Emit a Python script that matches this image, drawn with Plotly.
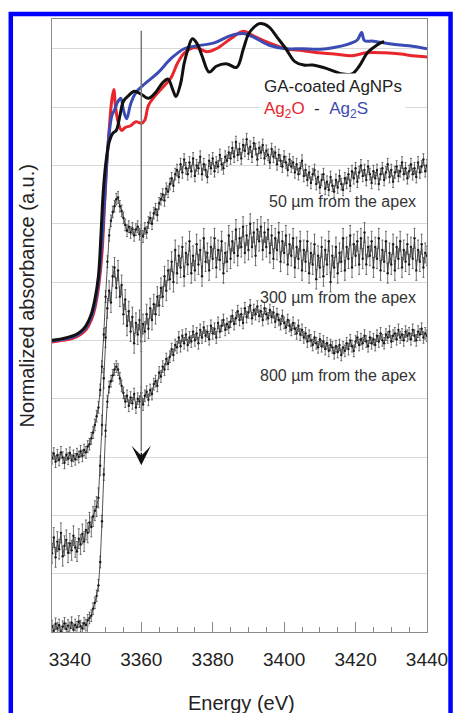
import plotly.graph_objects as go

# ---------------- data (grid units; 1 unit = one horizontal gridline) ----------------
energy_noisy = [
    3335, 3335.5, 3336, 3336.5, 3337, 3337.5, 3338, 3338.5, 3339, 3339.5, 3340, 3340.5, 3341, 3341.5, 3342, 3342.5, 3343, 3343.5, 3344, 3344.5,
    3345, 3345.5, 3346, 3346.5, 3347, 3347.5, 3348, 3348.5, 3349, 3349.5, 3350, 3350.5, 3351, 3351.5, 3352, 3352.5, 3353, 3353.5, 3354, 3354.5,
    3355, 3355.5, 3356, 3356.5, 3357, 3357.5, 3358, 3358.5, 3359, 3359.5, 3360, 3360.5, 3361, 3361.5, 3362, 3362.5, 3363, 3363.5, 3364, 3364.5,
    3365, 3365.5, 3366, 3366.5, 3367, 3367.5, 3368, 3368.5, 3369, 3369.5, 3370, 3370.5, 3371, 3371.5, 3372, 3372.5, 3373, 3373.5, 3374, 3374.5,
    3375, 3375.5, 3376, 3376.5, 3377, 3377.5, 3378, 3378.5, 3379, 3379.5, 3380, 3380.5, 3381, 3381.5, 3382, 3382.5, 3383, 3383.5, 3384, 3384.5,
    3385, 3385.5, 3386, 3386.5, 3387, 3387.5, 3388, 3388.5, 3389, 3389.5, 3390, 3390.5, 3391, 3391.5, 3392, 3392.5, 3393, 3393.5, 3394, 3394.5,
    3395, 3395.5, 3396, 3396.5, 3397, 3397.5, 3398, 3398.5, 3399, 3399.5, 3400, 3400.5, 3401, 3401.5, 3402, 3402.5, 3403, 3403.5, 3404, 3404.5,
    3405, 3405.5, 3406, 3406.5, 3407, 3407.5, 3408, 3408.5, 3409, 3409.5, 3410, 3410.5, 3411, 3411.5, 3412, 3412.5, 3413, 3413.5, 3414, 3414.5,
    3415, 3415.5, 3416, 3416.5, 3417, 3417.5, 3418, 3418.5, 3419, 3419.5, 3420, 3420.5, 3421, 3421.5, 3422, 3422.5, 3423, 3423.5, 3424, 3424.5,
    3425, 3425.5, 3426, 3426.5, 3427, 3427.5, 3428, 3428.5, 3429, 3429.5, 3430, 3430.5, 3431, 3431.5, 3432, 3432.5, 3433, 3433.5, 3434, 3434.5,
    3435, 3435.5, 3436, 3436.5, 3437, 3437.5, 3438, 3438.5, 3439, 3439.5, 3440]

apex_50 = [
    2.98, 3.06, 2.92, 3.03, 2.95, 3.08, 2.99, 2.90, 3.04, 2.97, 3.07, 2.94, 3.02, 2.96, 3.05, 3.00, 3.10, 3.02, 3.12, 3.08,
    3.18, 3.22, 3.32, 3.42, 3.55, 3.70, 3.85, 4.15, 4.55, 5.10, 5.75, 6.35, 6.80, 7.05, 7.20, 7.30, 7.42, 7.45, 7.30, 7.22,
    7.10, 6.98, 6.88, 6.95, 6.85, 6.92, 6.80, 6.90, 6.95, 6.82, 6.88, 6.78, 6.92, 6.85, 7.02, 7.10, 7.00, 7.18, 7.25, 7.15,
    7.35, 7.42, 7.50, 7.40, 7.60, 7.55, 7.68, 7.78, 7.65, 7.85, 7.92, 7.80, 8.02, 7.88, 8.10, 7.95, 7.85, 8.05, 7.90, 8.12,
    7.82, 8.00, 7.95, 8.15, 7.85, 8.02, 7.92, 7.80, 8.08, 7.95, 8.12, 7.90, 8.05, 7.98, 8.18, 8.02, 7.95, 8.15, 8.08, 8.22,
    8.12, 8.30, 8.15, 8.40, 8.18, 8.28, 8.12, 8.35, 8.25, 8.45, 8.20, 8.32, 8.15, 8.38, 8.28, 8.10, 8.30, 8.22, 8.35, 8.12,
    8.25, 8.18, 8.05, 8.28, 8.15, 8.22, 8.02, 8.18, 8.08, 7.98, 8.15, 8.05, 7.92, 8.10, 7.98, 8.05, 7.88, 8.02, 7.85, 7.95,
    8.08, 7.82, 7.92, 7.75, 7.88, 7.70, 7.85, 7.92, 7.68, 7.80, 7.62, 7.75, 7.85, 7.60, 7.72, 7.58, 7.80, 7.65, 7.55, 7.75,
    7.62, 7.82, 7.68, 7.58, 7.78, 7.70, 7.85, 7.65, 7.90, 7.78, 7.95, 7.72, 7.88, 8.00, 7.82, 7.92, 7.75, 7.98, 7.85, 7.70,
    7.90, 7.78, 7.92, 7.68, 7.85, 7.95, 7.75, 7.88, 8.02, 7.80, 7.92, 7.72, 7.88, 7.98, 7.82, 7.90, 8.05, 7.85, 7.95, 7.78,
    7.90, 8.02, 7.85, 7.95, 7.80, 8.05, 7.88, 7.98, 8.10, 7.90, 8.00]

apex_300 = [
    1.35, 1.62, 1.28, 1.55, 1.42, 1.70, 1.30, 1.48, 1.58, 1.36, 1.52, 1.40, 1.65, 1.45, 1.38, 1.60, 1.50, 1.68, 1.55, 1.75,
    1.70, 1.88, 1.80, 1.98, 2.08, 2.15, 2.30, 2.85, 3.55, 4.35, 5.05, 5.55, 5.85, 5.65, 6.10, 6.25, 5.90, 6.20, 5.75, 5.95,
    5.45, 5.70, 5.25, 5.50, 5.15, 5.40, 4.95, 5.30, 5.10, 5.35, 4.98, 5.28, 5.15, 5.45, 5.20, 5.55, 5.35, 5.62, 5.45, 5.75,
    5.60, 5.90, 5.75, 6.10, 5.85, 6.20, 6.05, 6.35, 6.00, 6.55, 6.15, 6.45, 6.25, 6.60, 6.10, 6.50, 6.30, 6.70, 6.15, 6.45,
    6.20, 6.65, 6.30, 6.55, 6.10, 6.75, 6.35, 6.50, 6.20, 6.60, 6.40, 6.75, 6.25, 6.55, 6.38, 6.70, 6.15, 6.50, 6.35, 6.80,
    6.40, 6.70, 6.50, 6.90, 6.45, 6.75, 6.60, 6.95, 6.50, 6.80, 6.55, 7.00, 6.60, 6.85, 6.45, 6.90, 6.70, 6.95, 6.55, 6.85,
    6.60, 6.90, 6.50, 6.80, 6.40, 6.75, 6.55, 6.85, 6.35, 6.70, 6.50, 6.80, 6.30, 6.65, 6.45, 6.75, 6.25, 6.60, 6.40, 6.70,
    6.20, 6.55, 6.35, 6.70, 6.15, 6.50, 6.30, 6.65, 6.05, 6.45, 6.25, 6.60, 6.10, 6.55, 6.30, 6.70, 6.00, 6.45, 6.25, 6.60,
    6.15, 6.50, 6.35, 6.75, 6.20, 6.60, 6.40, 6.80, 6.25, 6.65, 6.45, 6.70, 6.30, 6.75, 6.40, 6.85, 6.30, 6.60, 6.45, 6.70,
    6.25, 6.60, 6.40, 6.75, 6.20, 6.55, 6.35, 6.70, 6.15, 6.50, 6.30, 6.65, 6.20, 6.60, 6.40, 6.70, 6.25, 6.55, 6.35, 6.65,
    6.30, 6.60, 6.40, 6.75, 6.20, 6.55, 6.35, 6.65, 6.25, 6.50, 6.45]

apex_800 = [
    0.10, 0.02, 0.14, 0.06, 0.12, 0.00, 0.09, 0.15, 0.05, 0.11, 0.07, 0.16, 0.04, 0.12, 0.08, 0.18, 0.10, 0.06, 0.15, 0.12,
    0.20, 0.24, 0.28, 0.40, 0.50, 0.62, 0.80, 1.20, 1.90, 2.70, 3.45, 3.95, 4.20, 4.30, 4.40, 4.50, 4.55, 4.50, 4.35, 4.22,
    4.10, 3.95, 4.05, 3.88, 4.02, 3.92, 4.08, 3.85, 4.00, 3.95, 4.10, 3.90, 4.05, 4.12, 3.98, 4.15, 4.08, 4.25, 4.30, 4.22,
    4.45, 4.38, 4.55, 4.50, 4.68, 4.60, 4.72, 4.85, 4.75, 4.92, 4.88, 5.05, 4.90, 5.08, 4.95, 5.10, 4.92, 5.05, 4.98, 5.15,
    5.00, 5.12, 4.95, 5.18, 5.05, 5.22, 5.08, 5.15, 5.02, 5.25, 5.12, 5.20, 5.05, 5.30, 5.15, 5.25, 5.35, 5.18, 5.28, 5.22,
    5.32, 5.42, 5.28, 5.38, 5.50, 5.35, 5.45, 5.30, 5.55, 5.40, 5.48, 5.60, 5.38, 5.52, 5.45, 5.58, 5.42, 5.50, 5.35, 5.55,
    5.45, 5.38, 5.52, 5.40, 5.48, 5.32, 5.45, 5.35, 5.28, 5.42, 5.30, 5.22, 5.35, 5.25, 5.18, 5.30, 5.20, 5.12, 5.25, 5.10,
    5.18, 5.05, 5.12, 4.98, 5.08, 5.00, 4.92, 5.05, 4.95, 4.88, 5.02, 4.90, 4.98, 4.85, 4.95, 4.82, 4.92, 4.88, 4.78, 4.90,
    4.80, 4.92, 4.75, 4.88, 4.82, 4.95, 4.85, 5.00, 4.90, 4.82, 4.98, 5.05, 4.92, 5.02, 4.95, 5.08, 4.98, 4.90, 5.05, 4.95,
    5.02, 4.92, 5.08, 4.98, 5.12, 5.00, 4.95, 5.10, 5.05, 5.15, 4.98, 5.08, 5.12, 5.02, 5.18, 5.05, 5.10, 5.00, 5.15, 5.08,
    5.12, 5.02, 5.18, 5.08, 5.00, 5.15, 5.10, 5.20, 5.05, 5.12, 5.08]

err_50 = 0.10
err_300 = 0.17
err_800 = 0.10

ga_energy = [3335, 3338, 3341, 3343, 3344.5, 3346, 3347, 3348, 3348.7, 3349.3, 3350,
             3351, 3352, 3353, 3354, 3355, 3356.5, 3358, 3360, 3362, 3364, 3366,
             3367.5, 3368.8, 3369.7, 3371, 3372, 3373, 3374.3, 3375.7, 3377, 3379,
             3381, 3384, 3386.7, 3388.6, 3390, 3391.4, 3393, 3394.5, 3396, 3398,
             3400.5, 3403, 3405.5, 3408, 3412, 3416, 3419, 3421, 3423.3, 3425,
             3427, 3428]
ga_absorb = [5.00, 5.03, 5.08, 5.15, 5.25, 5.45, 5.70, 6.10, 6.80, 7.50, 8.00,
             8.40, 8.55, 8.60, 8.85, 9.10, 9.20, 9.27, 9.22, 9.15, 9.25, 9.42,
             9.48, 9.30, 9.18, 9.40, 9.75, 9.98, 10.17, 10.08, 9.88, 9.60,
             9.70, 9.74, 9.68, 10.00, 10.25, 10.36, 10.43, 10.42, 10.36, 10.20,
             10.00, 9.78, 9.72, 9.72, 9.66, 9.57, 9.57, 9.70, 9.93, 10.02,
             10.10, 10.12]

ag2o_energy = [3335, 3338, 3341, 3343, 3344.5, 3346, 3347, 3348, 3349, 3349.7,
               3350.3, 3351, 3351.7, 3352.3, 3352.8, 3353.5, 3354.5, 3355.5, 3357,
               3358.5, 3360, 3361, 3362, 3364, 3366.5, 3368.3, 3370.2, 3372.1,
               3375, 3378.5, 3381, 3385, 3388.6, 3391.4, 3395.8, 3400.5, 3405,
               3409.5, 3414, 3419, 3423, 3428, 3432.7, 3436, 3440]
ag2o_absorb = [4.97, 5.00, 5.04, 5.10, 5.18, 5.35, 5.55, 5.90, 6.50, 7.30,
               8.00, 8.60, 9.10, 9.30, 9.00, 8.75, 8.60, 8.65, 8.68,
               8.75, 8.72, 8.78, 9.03, 9.20, 9.37, 9.50, 9.76, 9.93,
               10.02, 9.95, 10.00, 10.17, 10.30, 10.22, 10.10, 10.00, 9.97,
               9.93, 9.91, 9.88, 9.93, 9.93, 9.91, 9.88, 9.86]

ag2s_energy = [3335, 3338, 3341, 3343, 3344.5, 3346, 3347, 3348, 3349, 3349.8,
               3350.5, 3351.2, 3351.8, 3352.5, 3353.5, 3354.3, 3355, 3355.9, 3357,
               3358.4, 3361, 3364.7, 3368.3, 3372, 3375.7, 3380.4, 3384.8, 3388.6,
               3391.4, 3395.8, 3400.5, 3405, 3410, 3414, 3418, 3420.5, 3421.7,
               3422.5, 3425, 3430, 3435, 3440]
ag2s_absorb = [4.99, 5.02, 5.06, 5.13, 5.22, 5.40, 5.62, 6.00, 6.70, 7.50,
               8.20, 8.65, 8.86, 8.95, 9.10, 9.15, 8.95, 8.80, 9.05,
               9.24, 9.40, 9.59, 9.83, 10.00, 10.05, 10.10, 10.22, 10.26,
               10.20, 10.06, 10.00, 10.00, 9.99, 10.02, 10.08, 10.15, 10.28,
               10.14, 10.13, 10.08, 10.05, 10.00]

x_ticks = [3340, 3360, 3380, 3400, 3420, 3440]
sample_labels = ["50 µm from the apex", "300 µm from the apex", "800 µm from the apex"]

assert len(energy_noisy) == len(apex_50) == len(apex_300) == len(apex_800)

# ---------------- figure ----------------
FONT = "Liberation Sans, Arial, sans-serif"
fig = go.Figure()

for ys, err in [(apex_800, err_800), (apex_300, err_300), (apex_50, err_50)]:
    fig.add_trace(go.Scatter(
        x=energy_noisy, y=ys, mode="lines+markers",
        line=dict(color="#2a2a2a", width=0.8),
        marker=dict(color="#1a1a1a", size=2.4),
        error_y=dict(type="constant", value=err, color="#3a3a3a",
                     thickness=0.7, width=1),
        showlegend=False, hoverinfo="skip"))

fig.add_trace(go.Scatter(x=ag2o_energy, y=ag2o_absorb, mode="lines",
                         line=dict(color="#e8262b", width=3, shape="spline"),
                         showlegend=False))
fig.add_trace(go.Scatter(x=ag2s_energy, y=ag2s_absorb, mode="lines",
                         line=dict(color="#3a4bb4", width=3, shape="spline"),
                         showlegend=False))
fig.add_trace(go.Scatter(x=ga_energy, y=ga_absorb, mode="lines",
                         line=dict(color="#111111", width=3, shape="spline"),
                         showlegend=False))

# vertical arrow line at 3360 eV
fig.add_shape(type="line", xref="x", yref="y", x0=3360, x1=3360, y0=10.31, y1=3.1,
              line=dict(color="#7a7a7a", width=1.5))
fig.add_annotation(x=3360, y=2.86, xref="x", yref="y", ax=0, ay=-14,
                   showarrow=True, arrowhead=3, arrowsize=2.3, arrowwidth=1.4,
                   arrowcolor="#111111", text="")

# legend-like text block
fig.add_annotation(
    x=3393.3, y=9.14, xref="x", yref="y", xanchor="left", yanchor="middle",
    align="left", showarrow=False, bgcolor="white", borderpad=3,
    text=("GA-coated AgNPs<br>"
          "<span style='color:#e8262b'>Ag<sub>2</sub>O</span>"
          "&nbsp;&nbsp;-&nbsp;&nbsp;"
          "<span style='color:#3a4bb4'>Ag<sub>2</sub>S</span>"),
    font=dict(family=FONT, size=17, color="#222222"))

for lab, ypos in zip(sample_labels, [7.38, 5.73, 4.39]):
    fig.add_annotation(x=3437.5, y=ypos, xref="x", yref="y", xanchor="right",
                       yanchor="middle", showarrow=False, text=lab,
                       font=dict(family=FONT, size=16, color="#333333"))

# axis titles as annotations
fig.add_annotation(x=-0.0655, y=0.548, xref="paper", yref="paper", textangle=-90,
                   xanchor="center", yanchor="middle",
                   showarrow=False, text="Normalized absorbance (a.u.)",
                   font=dict(family=FONT, size=20, color="#222222"))
fig.add_annotation(x=0.505, y=-0.1158, xref="paper", yref="paper", showarrow=False,
                   xanchor="center", yanchor="middle",
                   text="Energy (eV)", font=dict(family=FONT, size=20, color="#222222"))

# blue frame
fig.add_shape(type="rect", xref="paper", yref="paper",
              x0=-0.1099, x1=1.0628, y0=-0.14, y1=1.00816,
              line=dict(color="#0000ff", width=4.5), fillcolor="rgba(0,0,0,0)")

fig.update_xaxes(range=[3335, 3440], tickvals=x_ticks, ticks="inside", ticklen=10,
                 tickwidth=1.2, tickcolor="#888888",
                 minor=dict(dtick=5, ticks="inside", ticklen=5, tickcolor="#888888",
                            tickwidth=1, showgrid=False),
                 showgrid=False, zeroline=False, showline=True, linecolor="#8a8a8a",
                 linewidth=1.2, mirror=True, ticklabelstandoff=10,
                 tickfont=dict(family=FONT, size=19, color="#222222"))
fig.update_yaxes(range=[0, 10.51], dtick=1, tick0=0, showticklabels=False,
                 ticks="", showgrid=True, gridcolor="#d9d9d9", gridwidth=1.2,
                 zeroline=False, showline=True, linecolor="#8a8a8a", linewidth=1.2,
                 mirror=True)

fig.update_layout(width=460, height=713, margin=dict(l=52, r=26, t=19, b=81),
                  paper_bgcolor="white", plot_bgcolor="white",
                  font=dict(family=FONT))

fig.write_html("out.html",
               config={"displayModeBar": False},
               post_script="document.body.style.margin='0';"
                           "document.body.style.padding='0';"
                           "document.body.style.overflow='hidden';")
